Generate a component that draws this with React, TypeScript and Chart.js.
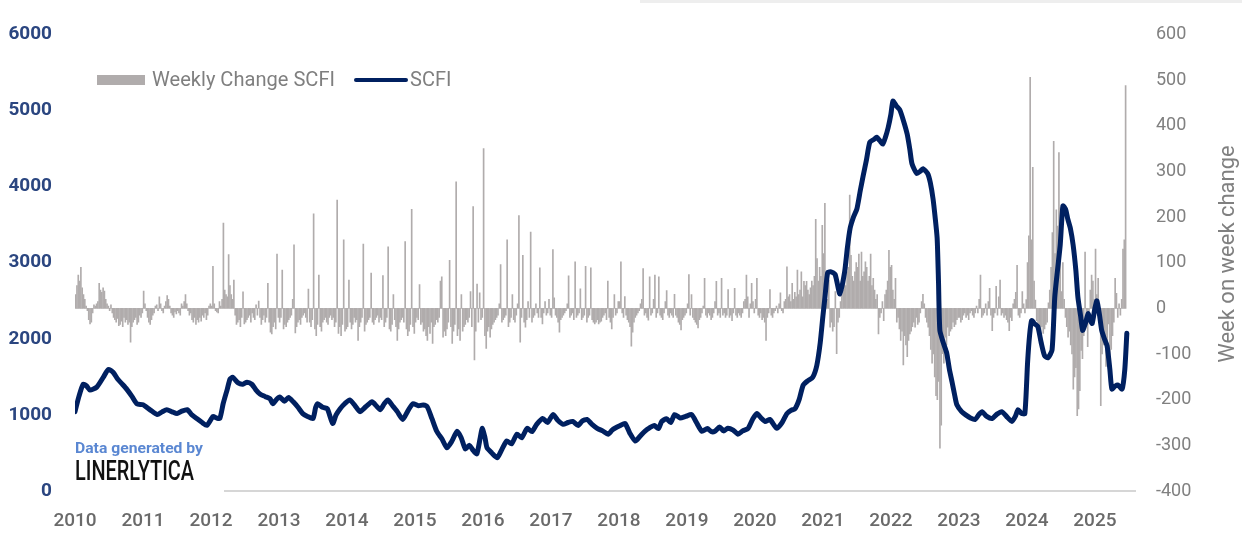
import { useEffect, useRef } from "react";
import { Chart, registerables } from "chart.js";

Chart.register(...registerables);

const FONT = "Roboto, 'Noto Sans', 'DejaVu Sans', sans-serif";

// SCFI index (left axis), x in decimal years
const scfiYears = [
  2010.0, 2010.06, 2010.12, 2010.17, 2010.22, 2010.32, 2010.42, 2010.49, 2010.56, 2010.63, 2010.7, 2010.76, 2010.84, 2010.91,
  2011.0, 2011.1, 2011.21, 2011.28, 2011.35, 2011.43, 2011.5, 2011.57, 2011.65, 2011.72, 2011.79, 2011.87, 2011.94,
  2012.03, 2012.08, 2012.13, 2012.18, 2012.24, 2012.28, 2012.32, 2012.4, 2012.47, 2012.53, 2012.6, 2012.66, 2012.72, 2012.8, 2012.87, 2012.91, 2012.96,
  2013.01, 2013.08, 2013.14, 2013.21, 2013.28, 2013.35, 2013.42, 2013.5, 2013.54, 2013.57, 2013.64, 2013.71, 2013.79, 2013.84, 2013.9, 2013.97,
  2014.04, 2014.12, 2014.19, 2014.28, 2014.37, 2014.43, 2014.49, 2014.55, 2014.6, 2014.67, 2014.74, 2014.82, 2014.9, 2014.97,
  2015.05, 2015.12, 2015.18, 2015.25, 2015.32, 2015.4, 2015.47, 2015.54, 2015.62, 2015.68, 2015.74, 2015.8, 2015.86, 2015.91, 2015.96, 2015.99,
  2016.03, 2016.06, 2016.13, 2016.21, 2016.28, 2016.35, 2016.42, 2016.5, 2016.57, 2016.65, 2016.72, 2016.79, 2016.88, 2016.95,
  2017.03, 2017.1, 2017.18, 2017.25, 2017.32, 2017.4, 2017.46, 2017.53, 2017.6, 2017.68, 2017.76, 2017.84, 2017.9, 2017.94,
  2018.02, 2018.09, 2018.16, 2018.24, 2018.31, 2018.38, 2018.45, 2018.52, 2018.58, 2018.63, 2018.7, 2018.76, 2018.82, 2018.9, 2018.98,
  2019.07, 2019.14, 2019.22, 2019.3, 2019.36, 2019.41, 2019.48, 2019.54, 2019.6, 2019.68, 2019.75, 2019.82, 2019.9, 2019.97,
  2020.03, 2020.09, 2020.15, 2020.22, 2020.27, 2020.32, 2020.4, 2020.47, 2020.53, 2020.59, 2020.65, 2020.71, 2020.78, 2020.85, 2020.91, 2020.96,
  2021.0, 2021.03, 2021.07, 2021.12, 2021.18, 2021.25, 2021.32, 2021.36, 2021.4, 2021.45, 2021.5, 2021.55, 2021.59, 2021.64, 2021.69, 2021.75, 2021.79, 2021.84, 2021.88, 2021.92, 2021.96,
  2022.0, 2022.03, 2022.08, 2022.13, 2022.19, 2022.24, 2022.28, 2022.31, 2022.38, 2022.43, 2022.47, 2022.54, 2022.58, 2022.62, 2022.65, 2022.68, 2022.7, 2022.72, 2022.77, 2022.82, 2022.86, 2022.9, 2022.94, 2022.97,
  2023.04, 2023.1, 2023.17, 2023.24, 2023.29, 2023.34, 2023.41, 2023.49, 2023.56, 2023.63, 2023.7, 2023.78, 2023.83, 2023.87, 2023.92, 2023.97,
  2024.01, 2024.04, 2024.07, 2024.11, 2024.16, 2024.21, 2024.26, 2024.31, 2024.37, 2024.41, 2024.45, 2024.49, 2024.53, 2024.57, 2024.6, 2024.64, 2024.68, 2024.72, 2024.75, 2024.79, 2024.82, 2024.86, 2024.9, 2024.93, 2024.96,
  2025.0, 2025.03, 2025.07, 2025.1, 2025.14, 2025.18, 2025.22, 2025.25, 2025.3, 2025.34, 2025.4, 2025.44, 2025.47,
];

const scfiValues = [
  1043, 1250, 1403, 1380, 1326, 1365, 1500, 1597, 1560, 1468, 1400, 1339, 1240, 1146,
  1133, 1070, 1004, 1040, 1069, 1040, 1017, 1050, 1069, 1000, 953, 900, 863,
  979, 960, 953, 1150, 1339, 1470, 1494, 1420, 1403, 1430, 1403, 1330, 1275, 1240, 1210, 1146, 1200,
  1236, 1180, 1230, 1172, 1100, 1017, 980, 953, 1100, 1146, 1100, 1082, 888, 1000, 1082, 1150,
  1197, 1120, 1043, 1110, 1172, 1120, 1069, 1150, 1197, 1120, 1043, 940, 1060, 1146,
  1120, 1130, 1107, 950, 785, 680, 567, 650, 785, 700, 554, 600, 530, 489, 700, 824,
  700, 567, 500, 438, 550, 657, 620, 747, 700, 824, 780, 876, 953, 900,
  1004, 930, 876, 900, 914, 860, 920, 940, 880, 824, 790, 747, 800, 824,
  860, 888, 760, 657, 720, 785, 830, 860, 820, 914, 950, 900, 1004, 960, 980,
  1004, 900, 785, 820, 780, 785, 840, 790, 824, 800, 747, 790, 824, 950,
  1017, 960, 914, 940, 880, 824, 900, 1017, 1060, 1082, 1200, 1391, 1450, 1494, 1650, 1944,
  2300, 2546, 2871, 2880, 2845, 2588, 2884, 3200, 3451, 3600, 3708, 3950, 4133, 4350, 4584, 4620, 4648, 4600, 4558, 4650, 4777,
  4950, 5124, 5060, 5009, 4850, 4687, 4480, 4300, 4172, 4200, 4236, 4172, 4050, 3837, 3600, 3322, 2750, 2111, 1950, 1815, 1600, 1429, 1250, 1133,
  1043, 1000, 960, 940, 1000, 1043, 980, 953, 1010, 1043, 980, 914, 980, 1069, 1020, 1017,
  1687, 2050, 2240, 2200, 2163, 1950, 1777, 1750, 1854, 2549, 2900, 3232, 3747, 3700, 3579, 3450, 3232, 2900, 2549, 2300, 2111, 2200, 2330, 2250, 2202,
  2400, 2498, 2300, 2111, 2000, 1905, 1600, 1339, 1380, 1391, 1339, 1597, 2073,
];

// Weekly change of SCFI (right axis), one value per week
const weeklyChange2010 = [
  30, 50, 73, 60, 90, 45, 30, 20, 5, -5, -25, -34, -30,
  -10, 8, 5, 10, 15, 55, 40, 35, 45, 38, 20, 10, 5,
  -5, 8, -10, -20, -25, -30, -22, -38, -35, -28, -40, -20, -30,
  -25, -35, -30, -74, -40, -30, -25, -20, -35, -30, -15, -20, -10,
];
const weeklyChange2011 = [
  38, 10, -5, -20, -30, -35, -25, -15, -10, 5, 8, -5, 25,
  10, -5, -10, 5, 15, 28, 20, 5, -10, -15, -20, -8, -12,
  -5, -10, -15, 10, 5, 15, 30, 10, -5, -15, -10, -25, -30,
  -20, -35, -25, -30, -20, -28, -15, -20, -10, -25, -15, 5, 10,
];
const weeklyChange2012 = [
  5, 92, 10, -5, -8, -10, 15, 5, 20, 187, 40, 30, 25,
  118, 50, 30, 20, 62, -15, -35, -30, -25, -40, -20, 36, -34,
  -30, -25, -20, -15, -30, -10, -20, -25, 8, -15, 16, -20, -35,
  -25, -15, -30, -20, 55, -30, -52, -56, -40, -30, -45, 119, -20,
];
const weeklyChange2013 = [
  -30, -20, 84, -45, -35, -40, -30, -25, -20, -15, 20, 139, -54,
  -40, -30, -25, -35, -20, -15, -10, -20, -30, 42, -30, -40, -25,
  207, -45, -60, -35, 73, -40, -50, -30, -25, -20, -30, -35, -20,
  -15, -25, -20, -40, -30, 237, -55, -40, -60, -35, 150, -50, -45,
];
const weeklyChange2014 = [
  -40, 62, -30, -45, -35, -20, -30, -25, -70, -40, -30, -20, 141,
  -50, -35, -30, -25, -20, 77, -30, -35, -25, -20, -15, -30, -20,
  -25, 72, -40, -30, -20, 135, -45, -50, -35, 30, -25, -40, -70,
  -45, -30, -25, -20, -30, 146, -45, -60, -50, -35, 217, -40, -55,
];
const weeklyChange2015 = [
  -30, -20, -25, 52, -35, -30, -50, -45, -60, -70, -40, -55, -30,
  -77, -40, -35, -25, -30, -20, 60, 69, -63, -50, -60, -45, -30,
  105, -40, -77, -50, -35, 277, -60, -45, -70, 30, -50, -40, -35,
  -25, -30, -20, 37, -40, 223, -113, -50, 53, -30, 34, -25, -20,
];
const weeklyChange2016 = [
  350, -60, -88, -50, -40, -63, -45, -35, -30, -25, -20, -15, 10,
  96, -30, -25, -20, -15, 150, -40, -30, -20, 30, -25, -30, -15,
  10, 203, -74, -20, 116, -30, -41, -25, 15, -20, 167, -30, -20,
  -15, 10, -10, -20, 89, -20, -34, -10, 15, -15, -10, 20, -15,
];
const weeklyChange2017 = [
  -20, 129, 23, -15, -20, -30, -52, -25, -20, -15, -10, -5, 10,
  71, -20, -15, -10, -25, 102, -20, -15, -10, 43, -25, -20, -15,
  92, -30, -20, -15, 89, -25, -30, -34, -30, -25, -34, -30, -28,
  -20, -15, -10, -25, 60, -20, -30, -45, -20, 30, -15, -10, 15,
];
const weeklyChange2018 = [
  15, 102, -10, -20, 26, -15, -25, -30, -40, -83, -52, -30, -20,
  -15, -10, -5, 10, 20, 87, -15, -10, -20, -26, 69, -15, -10,
  20, 73, -20, -10, 69, -15, -20, -25, -10, 15, 39, -15, -20,
  -10, -15, -20, 31, -15, -20, -30, -35, -47, -25, -20, -15, -10,
];
const weeklyChange2019 = [
  10, 74, -15, 30, -20, -25, -30, -35, -43, -25, -20, -10, 5,
  66, -15, -20, -10, -15, -25, -20, -10, 15, 59, -15, -10, -20,
  66, -15, -10, -20, -15, 41, -20, -15, -27, -10, 44, -15, -20,
  -10, -15, -20, -10, 15, 20, 73, 25, -20, 10, 55, 15, -10,
];
const weeklyChange2020 = [
  20, 66, -15, -20, -10, -25, -20, -30, -70, -20, -10, 41, -15,
  -20, -10, -5, 5, -10, 10, 34, -5, -10, 15, 20, 91, 25,
  30, 15, 55, 20, 35, 25, 84, 30, 40, 80, 25, 59, 50,
  59, 40, 30, 45, 60, 50, 70, 195, 109, 60, 90, 70, 182,
];
const weeklyChange2021 = [
  120, 230, 40, 20, 62, -41, -30, -50, -40, 37, -99, -30, -20,
  15, 30, 40, 66, 50, 80, 90, 248, 116, 70, 60, 80, 100,
  90, 119, 60, 123, 70, 80, 102, 90, 60, 70, 119, 50, 66,
  40, 20, 30, -56, -20, -10, 15, -27, 30, 40, 60, 127, 90,
];
const weeklyChange2022 = [
  94, 40, 20, 66, -30, -20, -45, -70, -50, -124, -60, -80, -106,
  -70, -56, -50, -40, -30, -41, -20, -35, -30, -10, 15, 31, 10,
  -20, -30, -41, -60, -90, -120, -100, -150, -191, -200, -160, -306, -256,
  -99, -120, -63, -80, -41, -60, -50, -45, -30, -40, -35, -25, -20,
];
const weeklyChange2023 = [
  -20, -30, -25, -15, -10, -20, -15, -25, -10, -5, -15, -20, -10,
  5, -10, 20, 73, -20, -15, -10, 10, -15, 15, 44, -15, -49,
  -20, -10, 48, -15, 25, 62, -15, -10, -20, -15, -25, -30, -49,
  -20, -27, 10, 20, 35, 94, -15, -20, -10, 37, 10, -10, 19,
];
const weeklyChange2024 = [
  100, 159, 506, 150, 309, 60, 18, -27, -50, -70, -60, -40, -55,
  -45, -35, -30, 12, 40, 90, 166, 366, 120, 216, 180, 341, 220,
  37, 100, 20, -20, -40, -63, -50, -80, -100, -177, -150, -130, -235,
  -220, -180, -92, -110, -60, 123, -30, -84, -20, 40, 73, 60, 20,
];
const weeklyChange2025 = [
  130, 30, 66, -20, -213, -100, -80, -63, -127, -70, -34, -120, -90,
  -60, -30, 66, 33, -20, 10, -15, 20, 130, 150, 488,
];

const weeklyChangeByYear: [number, number[]][] = [
  [2010, weeklyChange2010], [2011, weeklyChange2011], [2012, weeklyChange2012], [2013, weeklyChange2013],
  [2014, weeklyChange2014], [2015, weeklyChange2015], [2016, weeklyChange2016], [2017, weeklyChange2017],
  [2018, weeklyChange2018], [2019, weeklyChange2019], [2020, weeklyChange2020], [2021, weeklyChange2021],
  [2022, weeklyChange2022], [2023, weeklyChange2023], [2024, weeklyChange2024], [2025, weeklyChange2025],
];

const xMin = 2010;
const xMax = 2025.59;
const leftMin = 0, leftMax = 6000, leftStep = 1000;
const rightMin = -400, rightMax = 600, rightStep = 100;

const legendLabels = ["Weekly Change SCFI", "SCFI"];
const rightAxisTitle = "Week on week change";
const creditLine1 = "Data generated by";
const creditLine2 = "LINERLYTICA";

const BAR_COLOR = "#B0ACAC";
const LINE_COLOR = "#002060";

const overlayPlugin = {
  id: "overlay",
  afterDraw(chart: any) {
    const ctx = chart.ctx as CanvasRenderingContext2D;
    ctx.save();
    // faint top border
    ctx.fillStyle = "#eeeeee";
    ctx.fillRect(640, 0, 602, 3);

    // legend
    ctx.fillStyle = BAR_COLOR;
    ctx.fillRect(97, 75, 48, 10);
    ctx.font = `20px ${FONT}`;
    ctx.fillStyle = "#7F7F7F";
    ctx.textBaseline = "middle";
    ctx.textAlign = "left";
    const t0 = legendLabels[0];
    const tw0 = ctx.measureText(t0).width;
    ctx.save();
    ctx.translate(152, 81);
    ctx.scale(183 / tw0, 1);
    ctx.fillText(t0, 0, 0);
    ctx.restore();
    ctx.strokeStyle = LINE_COLOR;
    ctx.lineWidth = 4;
    ctx.lineCap = "round";
    ctx.beginPath();
    ctx.moveTo(356, 80);
    ctx.lineTo(406, 80);
    ctx.stroke();
    ctx.fillText(legendLabels[1], 410, 81);

    // right axis title
    ctx.save();
    ctx.translate(1228, 254);
    ctx.rotate(-Math.PI / 2);
    ctx.textAlign = "center";
    ctx.textBaseline = "middle";
    ctx.fillStyle = "#808080";
    ctx.font = `22px ${FONT}`;
    ctx.fillText(rightAxisTitle, 0, 0);
    ctx.restore();

    // credit box
    ctx.fillStyle = "#ffffff";
    ctx.fillRect(70, 436, 154, 58);
    ctx.textAlign = "left";
    ctx.textBaseline = "middle";
    ctx.fillStyle = "#5A87D2";
    ctx.font = `bold 15px ${FONT}`;
    const w1 = ctx.measureText(creditLine1).width;
    ctx.save();
    ctx.translate(75, 449);
    ctx.scale(128 / w1, 1);
    ctx.fillText(creditLine1, 0, 0);
    ctx.restore();
    ctx.fillStyle = "#111111";
    ctx.font = `500 27px ${FONT}`;
    const w2 = ctx.measureText(creditLine2).width;
    ctx.save();
    ctx.translate(75, 473);
    ctx.scale(119 / w2, 1);
    ctx.fillText(creditLine2, 0, 0);
    ctx.restore();
    ctx.restore();
  },
};

export default function App() {
  const canvasRef = useRef<HTMLCanvasElement | null>(null);

  useEffect(() => {
    const canvas = canvasRef.current;
    if (!canvas) return;
    const barData = weeklyChangeByYear.flatMap(([yr, arr]) =>
      arr.map((v, i) => ({ x: yr + (i + 0.5) / 52, y: v }))
    );
    const lineData = scfiYears.map((x, i) => ({ x, y: scfiValues[i] }));

    const chart = new Chart(canvas, {
      type: "bar",
      data: {
        datasets: [
          {
            type: "line",
            label: legendLabels[1],
            data: lineData,
            yAxisID: "y",
            borderColor: LINE_COLOR,
            borderWidth: 5,
            pointRadius: 0,
            tension: 0.2,
            borderJoinStyle: "round",
            borderCapStyle: "round",
            order: 0,
          } as any,
          {
            type: "bar",
            label: legendLabels[0],
            data: barData,
            yAxisID: "y1",
            backgroundColor: BAR_COLOR,
            barThickness: 1,
            order: 1,
          } as any,
        ],
      },
      options: {
        animation: false,
        responsive: false,
        maintainAspectRatio: false,
        layout: { padding: { top: 25, left: 0, right: 0, bottom: 0 } },
        plugins: { legend: { display: false }, tooltip: { enabled: false } },
        scales: {
          x: {
            type: "linear",
            offset: false,
            min: xMin,
            max: xMax,
            grid: { display: false, drawTicks: false, offset: false },
            border: { display: true, color: "#D6D6D6", width: 2 },
            ticks: {
              stepSize: 1,
              includeBounds: false,
              autoSkip: false,
              maxRotation: 0,
              padding: 19,
              color: "#6A6A6A",
              font: { family: FONT, size: 19, weight: "500" },
              callback: (v: any) => String(v),
            },
            afterFit: (s: any) => {
              s.height = 44;
            },
          },
          y: {
            position: "left",
            min: leftMin,
            max: leftMax,
            grid: { display: false, drawTicks: false },
            border: { display: false },
            ticks: {
              stepSize: leftStep,
              padding: 23,
              color: "#2B4680",
              font: { family: FONT, size: 19, weight: "bold" },
              callback: (v: any) => String(v),
            },
            afterFit: (s: any) => {
              s.width = 75;
            },
          },
          y1: {
            position: "right",
            min: rightMin,
            max: rightMax,
            grid: { display: false, drawTicks: false },
            border: { display: false },
            ticks: {
              stepSize: rightStep,
              padding: 21,
              color: "#808080",
              font: { family: FONT, size: 18 },
              callback: (v: any) => String(v),
            },
            afterFit: (s: any) => {
              s.width = 107;
            },
          },
        },
      } as any,
      plugins: [overlayPlugin],
    });
    return () => chart.destroy();
  }, []);

  return (
    <div style={{ position: "fixed", left: 0, top: 0, width: 1242, height: 535, background: "#fff" }}>
      <canvas ref={canvasRef} width={1242} height={535} style={{ display: "block", width: 1242, height: 535 }} />
    </div>
  );
}
